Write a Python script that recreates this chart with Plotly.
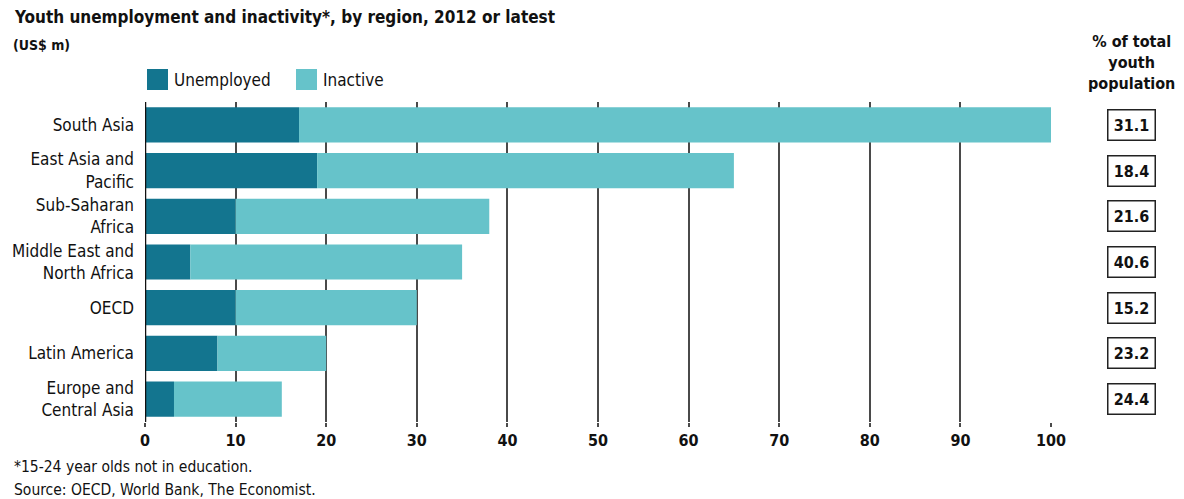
import plotly.graph_objects as go

# Regions, top to bottom
regions = [
    "South Asia",
    "East Asia and<br>Pacific",
    "Sub-Saharan<br>Africa",
    "Middle East and<br>North Africa",
    "OECD",
    "Latin America",
    "Europe and<br>Central Asia",
]
unemployed = [17, 19, 10, 5, 10, 8, 3.2]
inactive = [83, 46, 28, 30, 20, 12, 11.9]
share_of_youth = ["31.1", "18.4", "21.6", "40.6", "15.2", "23.2", "24.4"]
x_ticks = [0, 10, 20, 30, 40, 50, 60, 70, 80, 90, 100]

DARK = "#13758f"
LIGHT = "#66c3ca"
FONT = "Liberation Sans Narrow, DejaVu Sans Condensed, Arial Narrow, sans-serif"
TXT = "#111111"

# plot-area geometry in pixels (used to place paper-referenced items)
L, T, W, H = 145, 102, 906, 320


def px(x):
    return (x - L) / W


def py(y):
    return 1 - (y - T) / H


fig = go.Figure()
fig.add_trace(go.Bar(y=regions, x=unemployed, orientation="h", name="Unemployed",
                     marker=dict(color=DARK, line=dict(width=0))))
fig.add_trace(go.Bar(y=regions, x=inactive, base=unemployed, orientation="h", name="Inactive",
                     marker=dict(color=LIGHT, line=dict(width=0))))

fig.update_layout(
    width=1184, height=499,
    margin=dict(l=L, r=1184 - L - W, t=T, b=499 - T - H),
    paper_bgcolor="white", plot_bgcolor="white",
    barmode="overlay", bargap=0.23,
    showlegend=False,
    font=dict(family=FONT, color=TXT, size=15),
)
fig.update_xaxes(
    range=[0, 100], tickvals=x_ticks, showgrid=True, gridcolor="#4a4a4a", gridwidth=1.5,
    zeroline=False, showline=False, ticks="outside", ticklen=4, tickcolor="#4a4a4a",
    tickwidth=1.5, tickfont=dict(size=16, family=FONT, color=TXT, weight="bold"),
    layer="below traces",
)
fig.update_yaxes(
    categoryorder="array", categoryarray=regions, autorange="reversed",
    showgrid=False, ticks="", ticklabelstandoff=10,
    tickfont=dict(size=17, family=FONT, color=TXT),
)

# zero line
fig.add_shape(type="line", xref="x", yref="paper", x0=0, x1=0, y0=0, y1=1.0,
              line=dict(color="#111111", width=2.5), layer="above")

ann = []
ann.append(dict(text="<b>Youth unemployment and inactivity*, by region, 2012 or latest</b>",
                xref="paper", yref="paper", x=px(12), y=py(17),
                xanchor="left", yanchor="middle", showarrow=False,
                font=dict(size=17, family=FONT, color=TXT)))
ann.append(dict(text="<b>(US$ m)</b>",
                xref="paper", yref="paper", x=px(11), y=py(45),
                xanchor="left", yanchor="middle", showarrow=False,
                font=dict(size=14, family=FONT, color=TXT)))

# legend swatches
shapes = []
for x0, label, col in [(147, "Unemployed", DARK), (296, "Inactive", LIGHT)]:
    shapes.append(dict(type="rect", xref="paper", yref="paper",
                       x0=px(x0), x1=px(x0 + 21), y0=py(90), y1=py(69),
                       fillcolor=col, line=dict(width=0)))
    ann.append(dict(text=label, xref="paper", yref="paper",
                    x=px(x0 + 25), y=py(80),
                    xanchor="left", yanchor="middle", showarrow=False,
                    font=dict(size=17, family=FONT, color=TXT)))

# right-hand column
col_x = px(1131)
ann.append(dict(text="<b>% of total<br>youth<br>population</b>", xref="paper", yref="paper",
                x=col_x, y=py(62), xanchor="center", yanchor="middle",
                showarrow=False, align="center",
                font=dict(size=16, family=FONT, color=TXT)))
for r, v in zip(regions, share_of_youth):
    ann.append(dict(text=f"<b>{v}</b>", xref="paper", yref="y", x=col_x, y=r,
                    xanchor="center", yanchor="middle", showarrow=False,
                    width=44, height=27, bordercolor="#222222", borderwidth=1.5,
                    bgcolor="white", font=dict(size=16, family=FONT, color=TXT)))

# footnotes
ann.append(dict(text="*15-24 year olds not in education.", xref="paper", yref="paper",
                x=px(12), y=py(467), xanchor="left", yanchor="middle",
                showarrow=False, font=dict(size=15.5, family=FONT, color=TXT)))
ann.append(dict(text="Source: OECD, World Bank, The Economist.", xref="paper", yref="paper",
                x=px(12), y=py(490), xanchor="left", yanchor="middle",
                showarrow=False, font=dict(size=15.5, family=FONT, color=TXT)))

fig.update_layout(annotations=ann, shapes=fig.layout.shapes + tuple(shapes))
fig.write_html("out.html")
